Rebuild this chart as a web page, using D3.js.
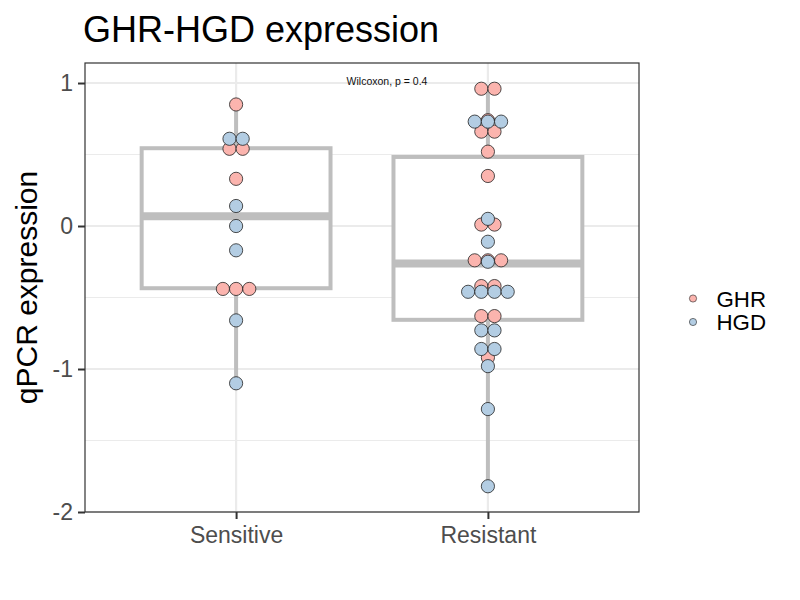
<!DOCTYPE html>
<html>
<head>
<meta charset="utf-8">
<script src="https://cdn.jsdelivr.net/npm/d3@7"></script>
<style>
body { margin: 0; background: #fff; }
text { font-family: "Liberation Sans", Arial, sans-serif; }
</style>
</head>
<body>
<svg id="chart" width="800" height="600"></svg>
<script>
// data
const groups = ["Sensitive", "Resistant"];
const genes = ["GHR", "HGD"];
const geneColors = ["#FBB4AE", "#B3CDE3"];
const yTicks = [-2, -1, 0, 1];

const sensitiveGHR = [0.85, 0.54, 0.54, 0.33, -0.44, -0.44, -0.44];
const sensitiveHGD = [0.61, 0.61, 0.14, 0.00, -0.17, -0.66, -1.10];
const resistantGHR = [0.96, 0.96, 0.74, 0.66, 0.66, 0.52, 0.35, 0.01, 0.01,
  -0.24, -0.24, -0.24, -0.42, -0.42, -0.63, -0.63, -0.92];
const resistantHGD = [0.73, 0.73, 0.73, 0.05, -0.11, -0.25, -0.46, -0.46, -0.46,
  -0.46, -0.73, -0.73, -0.86, -0.86, -0.98, -1.28, -1.82];

// box statistics per group (Sensitive, Resistant)
const boxLow = [-1.10, -1.82];
const boxQ1 = [-0.435, -0.656];
const boxMedian = [0.068, -0.262];
const boxQ3 = [0.544, 0.483];
const boxHigh = [0.85, 0.96];

const pValueLabel = "Wilcoxon, p = 0.4";

const values = {
  Sensitive: { GHR: sensitiveGHR, HGD: sensitiveHGD },
  Resistant: { GHR: resistantGHR, HGD: resistantHGD }
};

const panel = { left: 85, right: 639, top: 63, bottom: 512 };
const svg = d3.select("#chart");

const x = d3.scalePoint().domain(groups)
  .range([panel.left, panel.right]).padding(0.6);
const step = x.step();
const y = d3.scaleLinear().domain([-2, 1.14]).range([panel.bottom, panel.top]);
const color = d3.scaleOrdinal().domain(genes).range(geneColors);

// grid
const grid = svg.append("g");
const minor = d3.range(-1.5, 1.1, 1);
grid.selectAll(".minor").data(minor).join("line")
  .attr("x1", panel.left).attr("x2", panel.right)
  .attr("y1", d => y(d)).attr("y2", d => y(d))
  .attr("stroke", "#EBEBEB").attr("stroke-width", 1.1);
grid.selectAll(".major").data(yTicks).join("line")
  .attr("x1", panel.left).attr("x2", panel.right)
  .attr("y1", d => y(d)).attr("y2", d => y(d))
  .attr("stroke", "#EBEBEB").attr("stroke-width", 2.2);
grid.selectAll(".vmajor").data(groups).join("line")
  .attr("x1", d => x(d)).attr("x2", d => x(d))
  .attr("y1", panel.top).attr("y2", panel.bottom)
  .attr("stroke", "#EBEBEB").attr("stroke-width", 2.2);

// boxplots
const boxW = step * 0.75;
const boxes = svg.append("g").selectAll("g").data(groups).join("g");
boxes.append("line")
  .attr("x1", d => x(d)).attr("x2", d => x(d))
  .attr("y1", (d, i) => y(boxHigh[i])).attr("y2", (d, i) => y(boxLow[i]))
  .attr("stroke", "#BEBEBE").attr("stroke-width", 4);
boxes.append("rect")
  .attr("x", d => x(d) - boxW / 2).attr("width", boxW)
  .attr("y", (d, i) => y(boxQ3[i]))
  .attr("height", (d, i) => y(boxQ1[i]) - y(boxQ3[i]))
  .attr("fill", "#fff").attr("stroke", "#BEBEBE").attr("stroke-width", 4);
boxes.append("line")
  .attr("x1", d => x(d) - boxW / 2).attr("x2", d => x(d) + boxW / 2)
  .attr("y1", (d, i) => y(boxMedian[i])).attr("y2", (d, i) => y(boxMedian[i]))
  .attr("stroke", "#BEBEBE").attr("stroke-width", 8);

// dots: equal values in a group stack side by side
const dotD = 13.2;
const dots = [];
groups.forEach(g => {
  genes.forEach(gene => {
    const bins = d3.groups(values[g][gene], v => v);
    bins.forEach(([v, arr]) => {
      arr.forEach((_, i) => {
        dots.push({ group: g, gene, value: v, off: (i - (arr.length - 1) / 2) * dotD });
      });
    });
  });
});
svg.append("g").selectAll("circle").data(dots).join("circle")
  .attr("cx", d => x(d.group) + d.off)
  .attr("cy", d => y(d.value))
  .attr("r", dotD / 2)
  .attr("fill", d => color(d.gene))
  .attr("stroke", "#222").attr("stroke-width", 0.8);

// p value label
svg.append("text")
  .attr("x", 387).attr("y", y(1.0) + 2)
  .attr("text-anchor", "middle").attr("font-size", 10.5).attr("fill", "#111")
  .text(pValueLabel);

// panel border
svg.append("rect")
  .attr("x", panel.left).attr("y", panel.top)
  .attr("width", panel.right - panel.left).attr("height", panel.bottom - panel.top)
  .attr("fill", "none").attr("stroke", "#333").attr("stroke-width", 1.2);

// axes
const yAxis = svg.append("g")
  .attr("transform", `translate(${panel.left},0)`)
  .call(d3.axisLeft(y).tickValues(yTicks).tickSize(7).tickPadding(5).tickFormat(d3.format("d")));
const xAxis = svg.append("g")
  .attr("transform", `translate(0,${panel.bottom})`)
  .call(d3.axisBottom(x).tickSize(7).tickPadding(8));
[yAxis, xAxis].forEach(a => {
  a.select(".domain").remove();
  a.selectAll(".tick line").attr("stroke", "#333").attr("stroke-width", 2);
  a.selectAll(".tick text").attr("fill", "#4D4D4D").attr("font-size", 23)
    .attr("font-family", "Liberation Sans, Arial, sans-serif");
});
yAxis.selectAll(".tick text").text(d => d < 0 ? "-" + Math.abs(d) : d);

// titles
svg.append("text")
  .attr("x", 83).attr("y", 41.5).attr("font-size", 36).attr("fill", "#000")
  .text("GHR-HGD expression");
svg.append("text")
  .attr("transform", `translate(37,${(panel.top + panel.bottom) / 2}) rotate(-90)`)
  .attr("text-anchor", "middle").attr("font-size", 30).attr("fill", "#000")
  .text("qPCR expression");

// legend
const legend = svg.append("g").selectAll("g").data(genes).join("g")
  .attr("transform", (d, i) => `translate(693,${298.5 + i * 23.5})`);
legend.append("circle").attr("r", 3.6)
  .attr("fill", d => color(d)).attr("stroke", "#222").attr("stroke-width", 0.6);
legend.append("text").attr("x", 23.5).attr("y", 8)
  .attr("font-size", 22.3).attr("fill", "#000").text(d => d);
</script>
</body>
</html>
